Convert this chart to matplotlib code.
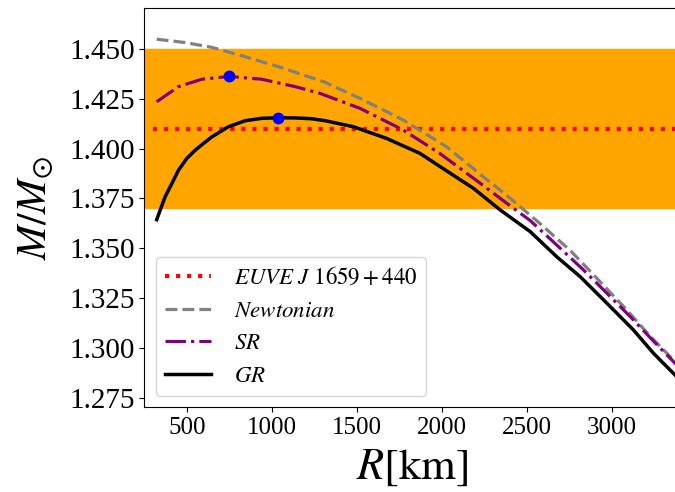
import matplotlib
matplotlib.use("Agg")
import matplotlib.pyplot as plt
from matplotlib.ticker import MultipleLocator, FormatStrFormatter

plt.rcParams['font.family'] = 'serif'
plt.rcParams['font.serif'] = ['Liberation Serif', 'DejaVu Serif']
plt.rcParams['mathtext.fontset'] = 'stix'

# observed mass band and central value (EUVE J 1659+440)
obs_low, obs_high = 1.37, 1.45
obs_mass = 1.41
obs_R = [300, 3380]

# mass-radius curves
R_newt = [323, 490, 647, 843, 1039, 1304, 1519, 1774, 2029, 2245, 2382, 2559, 2755,
          2931, 3088, 3225, 3380]
M_newt = [1.4549, 1.4532, 1.4508, 1.4461, 1.4411, 1.4336, 1.4252, 1.4143, 1.4009,
          1.3858, 1.3766, 1.3638, 1.3490, 1.3333, 1.3191, 1.3060, 1.2925]

R_sr = [323, 451, 588, 749, 941, 1137, 1284, 1519, 1774, 1990, 2225, 2382, 2519,
        2676, 2833, 2971, 3108, 3245, 3380]
M_sr = [1.4235, 1.4311, 1.4348, 1.4362, 1.4348, 1.4311, 1.4277, 1.4202, 1.4093,
        1.3975, 1.3827, 1.3726, 1.3640, 1.3517, 1.3392, 1.3275, 1.3158, 1.3035, 1.2917]

R_gr = [323, 343, 372, 412, 451, 500, 549, 598, 647, 745, 843, 941, 1039, 1137,
        1235, 1314, 1480, 1676, 1872, 1990, 2186, 2343, 2520, 2676, 2814, 2971,
        3127, 3245, 3380]
M_gr = [1.3644, 1.3691, 1.3758, 1.3825, 1.3892, 1.3951, 1.3992, 1.4026, 1.4059,
        1.4110, 1.4140, 1.4152, 1.4155, 1.4154, 1.4150, 1.4140, 1.4110, 1.4051,
        1.3976, 1.3910, 1.3801, 1.3693, 1.3584, 1.3458, 1.3358, 1.3225, 1.3091,
        1.2974, 1.2858]

# maximum-mass points
R_max = [749, 1039]
M_max = [1.4362, 1.4155]

fig = plt.figure(figsize=(6.75, 4.92), dpi=100)
ax = fig.add_axes([0.2138, 0.1722, 0.7933, 0.8110])

ax.axhspan(obs_low, obs_high, color='orange', zorder=0)
ax.plot(obs_R, [obs_mass, obs_mass], color='red', ls=':', lw=3,
        label=r'$EUVE\ J\ 1659+440$')
ax.plot(R_newt, M_newt, color='gray', ls='--', lw=2.3, label=r'$Newtonian$')
ax.plot(R_sr, M_sr, color='purple', ls='-.', lw=2.3, label=r'$SR$')
ax.plot(R_gr, M_gr, color='black', ls='-', lw=2.5, label=r'$GR$')
ax.plot(R_max, M_max, 'o', color='blue', ms=7.5, zorder=5)

ax.set_xlim(250, 3400)
ax.set_ylim(1.2703, 1.4704)
ax.yaxis.set_major_locator(MultipleLocator(0.025))
ax.yaxis.set_major_formatter(FormatStrFormatter('%.3f'))
ax.xaxis.set_major_locator(MultipleLocator(500))
ax.tick_params(axis='y', labelsize=21)
ax.tick_params(axis='x', labelsize=18)

ax.set_xlabel(r'$R[\mathrm{km}]$', fontsize=32, labelpad=6)
ax.set_ylabel(r'$M/M_{\odot}$', fontsize=30, labelpad=9)

ax.legend(loc='lower left', fontsize=16.5, handlelength=2.0, handletextpad=1.0)

fig.savefig('out.png', dpi=100)
